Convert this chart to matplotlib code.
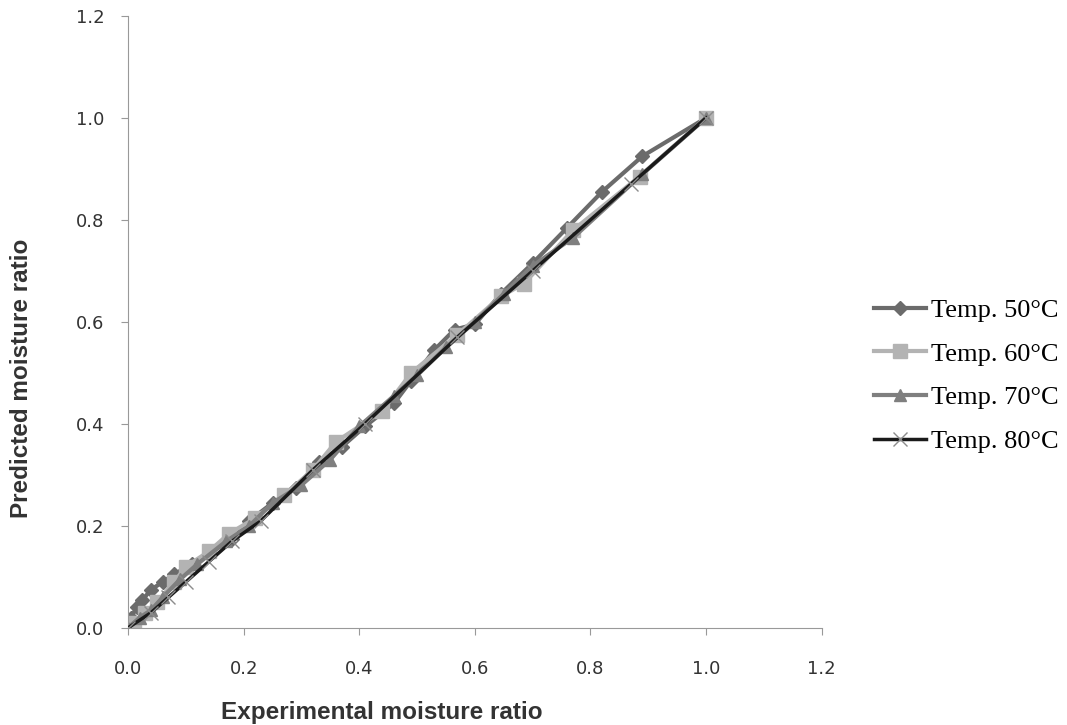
import matplotlib
matplotlib.use('Agg')
import matplotlib.pyplot as plt

# experimental vs predicted moisture ratio
x50 = [0, 0.005, 0.015, 0.025, 0.04, 0.06, 0.08, 0.11, 0.14, 0.18, 0.21, 0.25, 0.29, 0.33,
       0.37, 0.41, 0.46, 0.49, 0.53, 0.565, 0.60, 0.645, 0.70, 0.76, 0.82, 0.89, 1.0]
y50 = [0, 0.02, 0.04, 0.055, 0.075, 0.09, 0.105, 0.125, 0.145, 0.175, 0.21, 0.245, 0.275, 0.325,
       0.355, 0.395, 0.44, 0.485, 0.545, 0.585, 0.595, 0.655, 0.715, 0.785, 0.855, 0.925, 1.0]

x60 = [0, 0.01, 0.03, 0.05, 0.08, 0.10, 0.14, 0.175, 0.22, 0.27, 0.32, 0.36, 0.44, 0.49,
       0.57, 0.645, 0.685, 0.77, 0.885, 1.0]
y60 = [0, 0.01, 0.03, 0.05, 0.09, 0.12, 0.15, 0.185, 0.215, 0.26, 0.31, 0.365, 0.425, 0.50,
       0.575, 0.65, 0.675, 0.78, 0.885, 1.0]

x70 = [0, 0.02, 0.04, 0.06, 0.09, 0.12, 0.17, 0.21, 0.25, 0.30, 0.35, 0.40, 0.46, 0.50,
       0.55, 0.60, 0.65, 0.70, 0.77, 0.89, 1.0]
y70 = [0, 0.02, 0.035, 0.06, 0.095, 0.125, 0.17, 0.20, 0.245, 0.28, 0.33, 0.395, 0.455, 0.495,
       0.55, 0.60, 0.655, 0.71, 0.765, 0.89, 1.0]

x80 = [0, 0.04, 0.07, 0.10, 0.14, 0.18, 0.23, 0.32, 0.41, 0.57, 0.70, 0.87, 1.0]
y80 = [0, 0.03, 0.06, 0.09, 0.13, 0.17, 0.21, 0.31, 0.40, 0.57, 0.70, 0.87, 1.0]

ticks = [0.0, 0.2, 0.4, 0.6, 0.8, 1.0, 1.2]

fig = plt.figure(figsize=(10.67, 7.25), dpi=100)
ax = fig.add_axes([0.12, 0.134, 0.65, 0.844])

ax.plot(x50, y50, color='#6b6b6b', lw=3, marker='D', ms=7, label='Temp. 50°C')
ax.plot(x60, y60, color='#b3b3b3', lw=3, marker='s', ms=10, label='Temp. 60°C')
ax.plot(x70, y70, color='#7f7f7f', lw=3, marker='^', ms=9, label='Temp. 70°C')
ax.plot(x80, y80, color='#1a1a1a', lw=2.5, marker='x', ms=10, mec='#8c8c8c', mew=1,
        label='Temp. 80°C', zorder=5)

ax.set_xlim(0, 1.2)
ax.set_ylim(0, 1.2)
ax.set_xticks(ticks)
ax.set_yticks(ticks)
ax.set_xticklabels(['%.1f' % t for t in ticks])
ax.set_yticklabels(['%.1f' % t for t in ticks])
ax.tick_params(labelsize=13, colors='#333333', length=5, color='#999999')
ax.tick_params(axis='x', pad=18)
ax.tick_params(axis='y', pad=12)
for s in ['top', 'right']:
    ax.spines[s].set_visible(False)
for s in ['left', 'bottom']:
    ax.spines[s].set_color('#999999')

ax.set_xlabel('Experimental moisture ratio', fontsize=17.5, fontweight='bold',
              family='Liberation Sans', color='#333333')
ax.set_ylabel('Predicted moisture ratio', fontsize=17.5, fontweight='bold',
              family='Liberation Sans', color='#333333')
ax.xaxis.set_label_coords(0.366, -0.12)
ax.yaxis.set_label_coords(-0.137, 0.408)

leg = ax.legend(loc='center left', bbox_to_anchor=(1.076, 0.412), frameon=False,
                prop={'family': 'Liberation Serif', 'size': 19}, borderpad=0,
                borderaxespad=0, handlelength=1.95, handletextpad=0.2, labelspacing=0.76)

fig.savefig('out.png', dpi=100)
